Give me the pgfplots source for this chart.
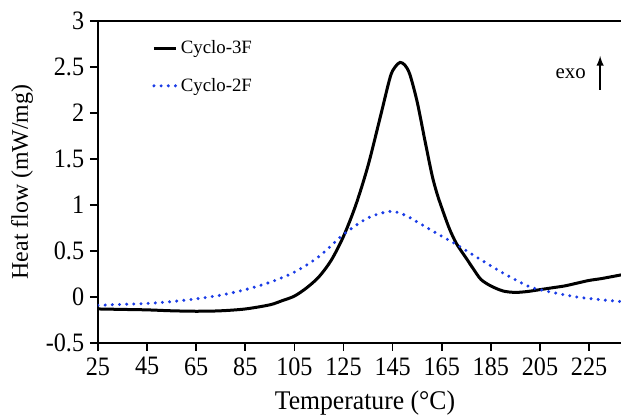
\documentclass[border=0pt]{standalone}
\usepackage{fontspec}
\setmainfont{Liberation Serif}
\usepackage{pgfplots}
\pgfplotsset{compat=1.18}
\definecolor{dotblue}{HTML}{1A3CE6}
\begin{document}
\begin{tikzpicture}
\begin{axis}[
  scale only axis,
  width=313.8pt, height=193.2pt,
  xmin=25, xmax=238, ymin=-0.5, ymax=3,
  axis lines=left,
  axis line style={-, line width=1pt},
  tick align=outside,
  major tick length=4.8pt,
  tick style={line width=1pt, black},
  xtick={25,45,65,85,105,125,145,165,185,205,225},
  xticklabels={25,45,65,85,105,125,145,165,185,205,225},
  ytick={-0.5,0,0.5,1,1.5,2,2.5,3},
  yticklabels={-0.5,0,0.5,1,1.5,2,2.5,3},
  tick label style={font=\fontsize{14.5}{16}\selectfont, yscale=1.1},
  xlabel={Temperature (°C)},
  ylabel={Heat flow (mW/mg)},
  xlabel style={font=\fontsize{15.4}{17}\selectfont, yscale=1.05, at={(axis description cs:0.5105,-0.1863)}, anchor=center},
  ylabel style={font=\fontsize{14.3}{16}\selectfont, at={(axis description cs:-0.1453,0.5)}, anchor=center},
  legend style={draw=none, fill=none, at={(axis description cs:0.1,0.955)}, anchor=north west,
    font=\fontsize{11.3}{12.5}\selectfont, row sep=9pt, inner sep=1pt},
  legend cell align=left,
  legend image code/.code={\draw[#1] (0cm,0cm) -- (0.46cm,0cm);},
]
\addplot[black, line width=1.8pt, smooth] coordinates {
(25,-0.13) (35,-0.135) (45,-0.14) (55,-0.15) (65,-0.155) (75,-0.15) (85,-0.13)
(95,-0.085) (100,-0.04) (105,0.01) (110,0.1) (115,0.22) (120,0.4) (125,0.66)
(130,1.0) (135,1.43) (140,1.96) (144,2.39) (146,2.5) (148,2.55) (150,2.52)
(152,2.42) (155,2.12) (158,1.72) (161,1.33) (163,1.13) (165,0.97) (168,0.75)
(171,0.58) (175,0.42) (178,0.3) (181,0.19) (185,0.12) (190,0.065) (195,0.05)
(200,0.06) (205,0.08) (210,0.1) (215,0.12) (220,0.15) (225,0.18) (230,0.2) (238,0.24)
};
\addlegendentry{Cyclo-3F}
\addplot[dotblue, line width=2pt, line cap=round, dash pattern=on 0pt off 4.3pt, smooth] coordinates {
(25,-0.09) (35,-0.08) (45,-0.07) (55,-0.05) (65,-0.02) (75,0.02) (85,0.08)
(95,0.16) (105,0.27) (115,0.44) (125,0.68) (135,0.86) (144,0.93) (150,0.89)
(156,0.8) (165,0.66) (171,0.57) (180,0.42) (190,0.26) (200,0.12) (205,0.08)
(210,0.05) (220,0.0) (230,-0.03) (238,-0.05)
};
\addlegendentry{Cyclo-2F}
\draw[line width=1pt] (rel axis cs:0,1) -- (rel axis cs:1,1);
\node[font=\fontsize{12.5}{14}\selectfont] at (axis cs:217.5,2.43) {exo};
\draw[-latex, line width=1pt] (axis cs:229.5,2.25) -- (axis cs:229.5,2.62);
\end{axis}
\pgfresetboundingbox
\path[use as bounding box] ([shift={(-58.8pt,-45pt)}]current axis.south west) rectangle ([shift={(0pt,12.6pt)}]current axis.north east);
\end{tikzpicture}
\end{document}
